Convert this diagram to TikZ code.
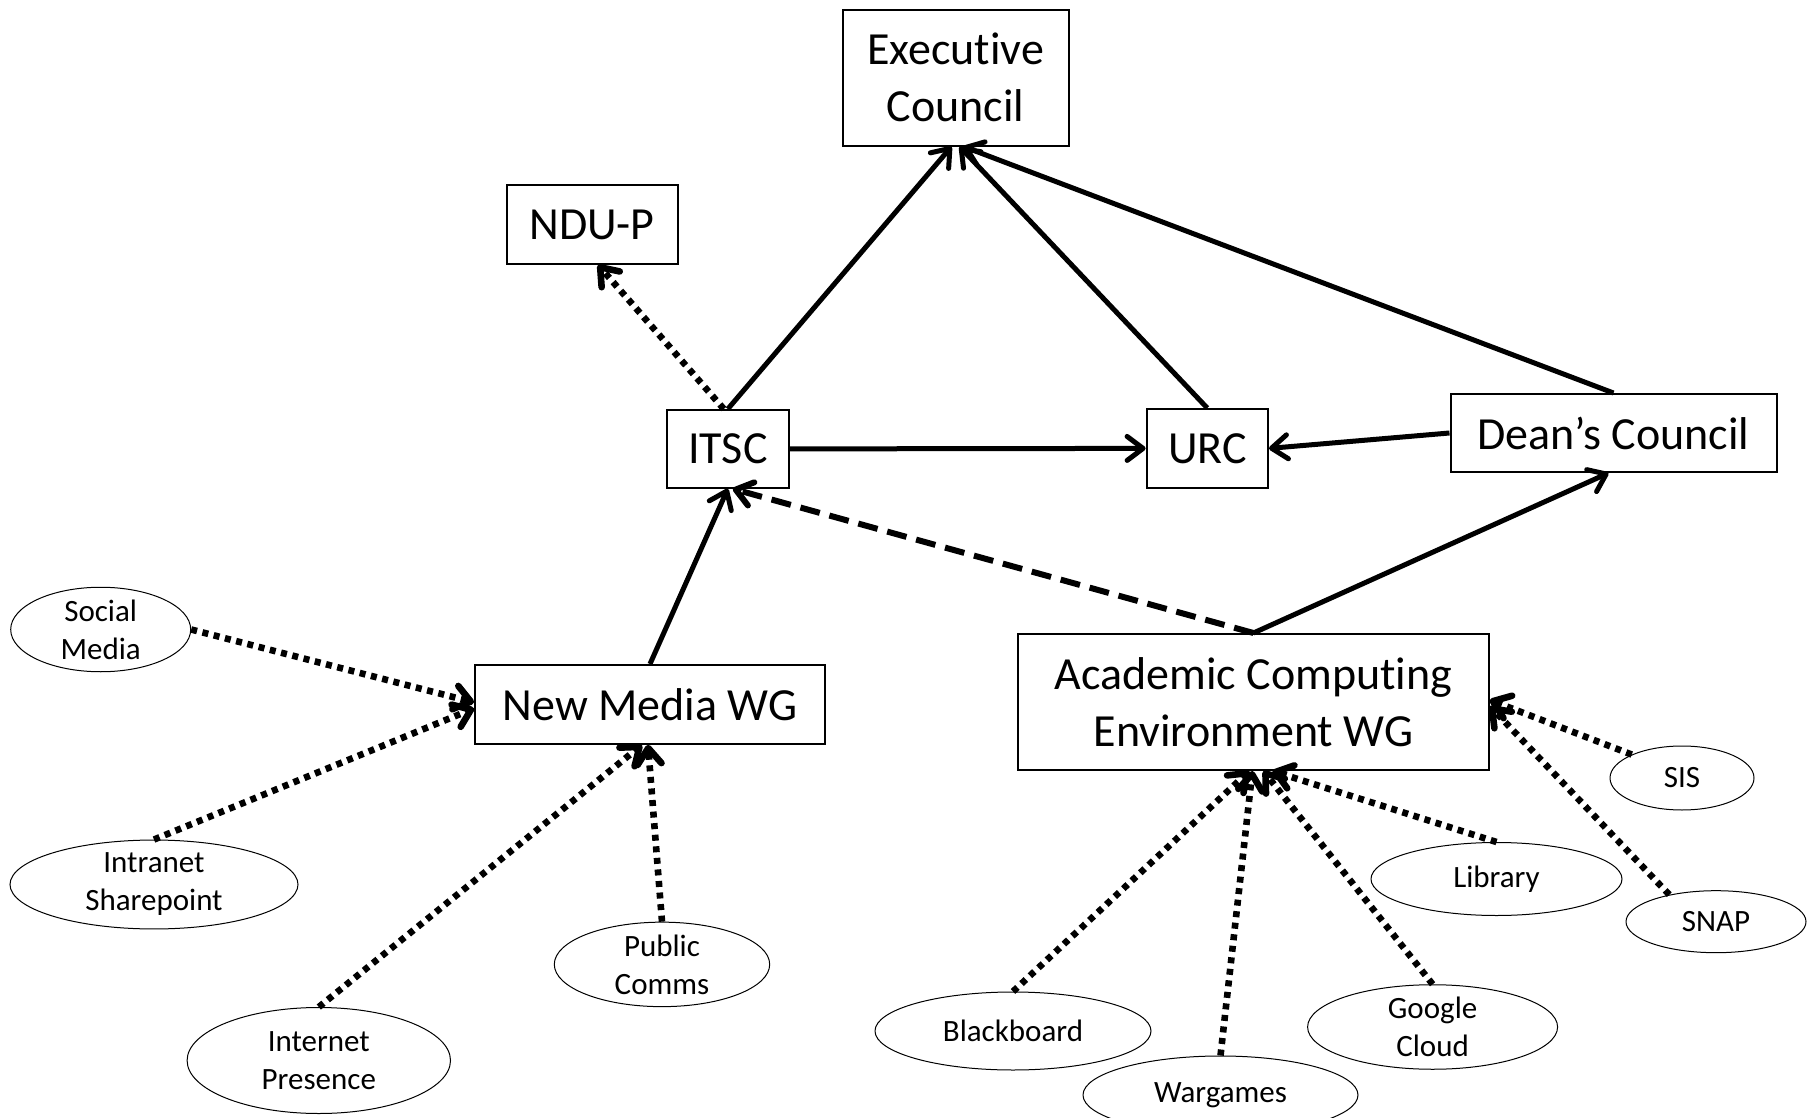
\documentclass[tikz,border=0pt]{standalone}
\usepackage{fontspec}
\setmainfont{Carlito}[Ligatures=NoCommon]
\usetikzlibrary{arrows.meta,shapes.geometric}
\begin{document}
\begin{tikzpicture}[x=0.5pt,y=-0.5pt,
 box/.style={draw,line width=1pt,inner sep=0pt,font=\fontsize{23}{28.5}\selectfont,align=center},
 oval/.style={ellipse,draw,line width=0.5pt,inner sep=0pt,font=\fontsize{15.5}{19}\selectfont,align=center},
 barbtip/.style={-{Straight Barb[length=8pt,width=12pt,line cap=round,line join=round]}},
 solidarrow/.style={barbtip,line width=2.5pt},
 dotarrow/.style={barbtip,line width=3.3pt,dash pattern=on 3pt off 2.8pt},
 dasharrow/.style={barbtip,line width=3pt,dash pattern=on 10pt off 5pt}]
\useasboundingbox (0,0) rectangle (1816,1118);
\fill[white] (0,0) rectangle (1816,1118);
% boxes
\node[box,minimum width=113pt,minimum height=67.75pt] (exec) at (955.5,77.8) {Executive\\Council};
\node[box,minimum width=85.5pt,minimum height=39.2pt] (ndup) at (592,224.6) {NDU-P};
\node[box,minimum width=60.8pt,minimum height=38.9pt] (itsc) at (727.8,448.9) {ITSC};
\node[box,minimum width=60.7pt,minimum height=39.3pt] (urc) at (1207.3,448.4) {URC};
\node[box,minimum width=163pt,minimum height=39pt] (dean) at (1613.5,433) {Dean’s Council};
\node[box,minimum width=175pt,minimum height=39.4pt] (nmwg) at (650,704.4) {New Media WG};
\node[box,minimum width=235.4pt,minimum height=68pt] (ace) at (1253.4,702) {Academic Computing\\Environment WG};
% ellipses
\node[oval,minimum width=90pt,minimum height=36.5pt] (social) at (100.7,629.5) {Social\\Media};
\node[oval,minimum width=144pt,minimum height=37.5pt] (intranet) at (154,884.5) {Intranet\\Sharepoint};
\node[oval,minimum width=131.7pt,minimum height=53pt] (internet) at (318.8,1060.5) {Internet\\Presence};
\node[oval,minimum width=107.7pt,minimum height=37.4pt] (public) at (662,964.4) {Public\\Comms};
\node[oval,minimum width=72pt,minimum height=32pt] (sis) at (1682,778) {SIS};
\node[oval,minimum width=90pt,minimum height=31pt] (snap) at (1716,921.7) {SNAP};
\node[oval,minimum width=125.5pt,minimum height=36.5pt] (library) at (1496.5,879) {Library};
\node[oval,minimum width=138pt,minimum height=39pt] (blackboard) at (1013,1031) {Blackboard};
\node[oval,minimum width=137.5pt,minimum height=39pt] (wargames) at (1220.5,1095) {Wargames};
\node[oval,minimum width=125pt,minimum height=38pt] (google) at (1432.6,1027) {Google\\Cloud};
% solid connectors
\draw[solidarrow] (itsc.north) -- ([xshift=-2pt]exec.south);
\draw[solidarrow] (urc.north) -- ([xshift=2pt]exec.south);
\draw[solidarrow] (dean.north) -- ([xshift=4pt]exec.south);
\draw[solidarrow] (itsc.east) -- (urc.west);
\draw[solidarrow] (dean.west) -- (urc.east);
\draw[solidarrow] (nmwg.north) -- (itsc.south);
\draw[solidarrow] (ace.north) -- ([xshift=-2.5pt]dean.south);
% dashed / dotted connectors
\draw[dasharrow] (ace.north) -- ([xshift=2.5pt]itsc.south);
\draw[dotarrow] ([xshift=-2pt]itsc.north) -- ([xshift=3pt]ndup.south);
\draw[dotarrow] (social.east) -- ([yshift=1pt]nmwg.west);
\draw[dotarrow] (intranet.north) -- ([yshift=-2pt]nmwg.west);
\draw[dotarrow] (internet.north) -- ([xshift=-4pt]nmwg.south);
\draw[dotarrow] (public.north) -- ([xshift=-1pt]nmwg.south);
\draw[dotarrow] (sis.155) -- ([yshift=1pt]ace.east);
\draw[dotarrow] (snap.150) -- ([yshift=-2pt]ace.east);
\draw[dotarrow] (library.north) -- ([xshift=9.5pt]ace.south);
\draw[dotarrow] (google.north) -- ([xshift=5pt]ace.south);
\draw[dotarrow] (wargames.north) -- ([xshift=-0.5pt]ace.south);
\draw[dotarrow] (blackboard.north) -- ([xshift=-2pt]ace.south);
\end{tikzpicture}
\end{document}
